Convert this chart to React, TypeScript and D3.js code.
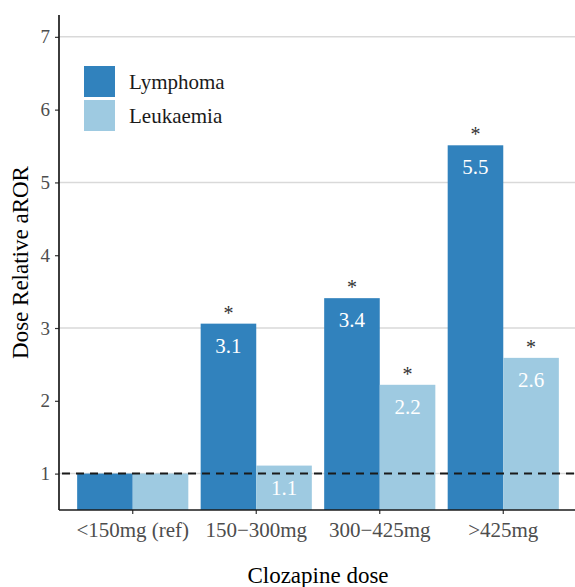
import { useEffect, useRef } from 'react'
import * as d3 from 'd3'

const doses = ['<150mg (ref)', '150\u2212300mg', '300\u2212425mg', '>425mg']
const seriesNames = ['Lymphoma', 'Leukaemia']
const lymphoma = [1.0, 3.06, 3.41, 5.51]
const leukaemia = [1.0, 1.11, 2.22, 2.59]
const lymphomaLabels = ['', '3.1', '3.4', '5.5']
const leukaemiaLabels = ['', '1.1', '2.2', '2.6']
const lymphomaStar = [false, true, true, true]
const leukaemiaStar = [false, false, true, true]
const yTicks = [1, 2, 3, 4, 5, 6, 7]
const gridTicks = [1, 3, 5, 7]

const colors = ['#3182bd', '#9ecae1']
const font = '"Liberation Serif", "Times New Roman", serif'

const App = () => {
  const svgRef = useRef<SVGSVGElement>(null)

  useEffect(() => {
    const W = 575
    const H = 587
    const margin = { top: 15, right: -2, bottom: 77, left: 59 }

    const svg = d3.select(svgRef.current)
    svg.selectAll('*').remove()
    svg.attr('width', W).attr('height', H)

    const x0 = d3.scaleBand()
      .domain(doses)
      .range([margin.left, W - margin.right])
      .paddingInner(0.1)
      .paddingOuter(0.147)

    const x1 = d3.scaleBand()
      .domain(seriesNames)
      .range([0, x0.bandwidth()])

    const y = d3.scaleLinear()
      .domain([0.5, 7.3])
      .range([H - margin.bottom, margin.top])

    const g = svg.append('g').style('font-family', font)

    // grid
    g.selectAll('line.grid')
      .data(gridTicks)
      .enter()
      .append('line')
      .attr('x1', margin.left)
      .attr('x2', W - margin.right)
      .attr('y1', d => y(d))
      .attr('y2', d => y(d))
      .attr('stroke', '#d9d9d9')
      .attr('stroke-width', 1.5)

    const series = [
      { name: seriesNames[0], values: lymphoma, labels: lymphomaLabels, stars: lymphomaStar, color: colors[0] },
      { name: seriesNames[1], values: leukaemia, labels: leukaemiaLabels, stars: leukaemiaStar, color: colors[1] }
    ]

    series.forEach(s => {
      const grp = g.append('g')
      grp.selectAll('rect')
        .data(s.values)
        .enter()
        .append('rect')
        .attr('x', (d, i) => (x0(doses[i]) as number) + (x1(s.name) as number))
        .attr('width', x1.bandwidth())
        .attr('y', d => y(d))
        .attr('height', d => y(0.5) - y(d))
        .attr('fill', s.color)

      grp.selectAll('text.val')
        .data(s.values)
        .enter()
        .append('text')
        .attr('x', (d, i) => (x0(doses[i]) as number) + (x1(s.name) as number) + x1.bandwidth() / 2)
        .attr('y', d => y(d) + 29)
        .attr('text-anchor', 'middle')
        .attr('fill', '#ffffff')
        .style('font-size', '21px')
        .text((d, i) => s.labels[i])

      grp.selectAll('text.star')
        .data(s.values)
        .enter()
        .append('text')
        .attr('x', (d, i) => (x0(doses[i]) as number) + (x1(s.name) as number) + x1.bandwidth() / 2)
        .attr('y', d => y(d) - 4)
        .attr('text-anchor', 'middle')
        .attr('fill', '#333333')
        .style('font-size', '20px')
        .text((d, i) => (s.stars[i] ? '*' : ''))
    })

    // reference line
    g.append('line')
      .attr('x1', margin.left + 3)
      .attr('x2', W - margin.right)
      .attr('y1', y(1))
      .attr('y2', y(1))
      .attr('stroke', '#1a1a1a')
      .attr('stroke-width', 2)
      .attr('stroke-dasharray', '8,6')

    // axes
    const yAxis = g.append('g')
      .attr('transform', `translate(${margin.left},0)`)
      .call(d3.axisLeft(y).tickValues(yTicks).tickSize(4).tickPadding(5).tickFormat(d3.format('d')))
    yAxis.select('.domain').remove()
    yAxis.selectAll('.tick line').attr('stroke', '#333').attr('stroke-width', 1.2)
    yAxis.selectAll('.tick text')
      .attr('fill', '#4d4d4d')
      .style('font-size', '19px')
      .style('font-family', font)

    const xAxis = g.append('g')
      .attr('transform', `translate(0,${H - margin.bottom})`)
      .call(d3.axisBottom(x0).tickSize(4).tickPadding(8))
    xAxis.select('.domain').remove()
    xAxis.selectAll('.tick line').attr('stroke', '#333').attr('stroke-width', 1.2)
    xAxis.selectAll('.tick text')
      .attr('fill', '#4d4d4d')
      .style('font-size', '21px')
      .style('font-family', font)

    g.append('line')
      .attr('x1', margin.left)
      .attr('x2', margin.left)
      .attr('y1', margin.top)
      .attr('y2', H - margin.bottom)
      .attr('stroke', '#1a1a1a')
      .attr('stroke-width', 1.7)

    g.append('line')
      .attr('x1', margin.left)
      .attr('x2', W - margin.right)
      .attr('y1', H - margin.bottom)
      .attr('y2', H - margin.bottom)
      .attr('stroke', '#1a1a1a')
      .attr('stroke-width', 1.7)

    // titles
    g.append('text')
      .attr('x', (margin.left + W - margin.right) / 2)
      .attr('y', 583)
      .attr('text-anchor', 'middle')
      .attr('fill', '#000')
      .style('font-size', '23px')
      .text('Clozapine dose')

    g.append('text')
      .attr('transform', `translate(28,${(margin.top + H - margin.bottom) / 2}) rotate(-90)`)
      .attr('text-anchor', 'middle')
      .attr('fill', '#000')
      .style('font-size', '23px')
      .text('Dose Relative aROR')

    // legend
    const legend = g.append('g').attr('transform', 'translate(84,66)')
    seriesNames.forEach((name, i) => {
      legend.append('rect')
        .attr('x', 0)
        .attr('y', i * 34)
        .attr('width', 31)
        .attr('height', 31)
        .attr('fill', colors[i])
      legend.append('text')
        .attr('x', 45)
        .attr('y', i * 34 + 23)
        .attr('fill', '#1a1a1a')
        .style('font-size', '21px')
        .text(name)
    })
  }, [])

  return <svg ref={svgRef} style={{ position: 'absolute', left: 0, top: 0 }}></svg>
}

export default App
